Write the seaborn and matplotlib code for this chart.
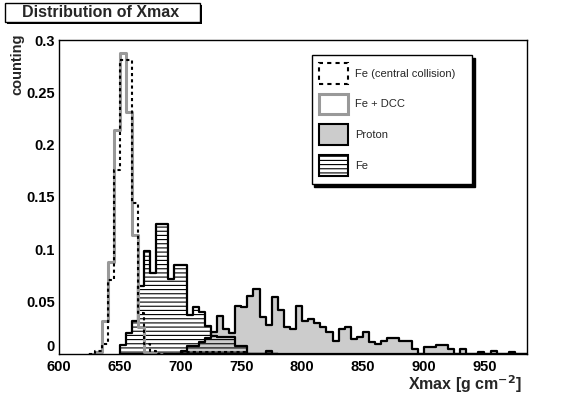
import numpy as np
import pandas as pd
import seaborn as sns
import matplotlib.pyplot as plt
from matplotlib.patches import Patch, Rectangle
from matplotlib.ticker import MultipleLocator, FuncFormatter

# Xmax distributions, bins of 5 g/cm2

bin_width = 5

fe_cc_start = 625
fe_cc = [0.0, 0.003, 0.010, 0.071, 0.176, 0.281, 0.281, 0.144, 0.039, 0.010,
         0.003, 0.0, 0.0, 0.0, 0.0,
         0.002, 0.002, 0.002, 0.002, 0.002, 0.002, 0.002, 0.002, 0.002, 0.002, 0.002, 0.0]

fe_dcc_start = 625
fe_dcc = [0.0, 0.002, 0.032, 0.088, 0.214, 0.288, 0.231, 0.114, 0.026, 0.002, 0.002, 0.0]

proton_start = 700
proton = [0.003, 0.008, 0.008, 0.011, 0.015,
          0.021, 0.036, 0.024, 0.020, 0.046, 0.045, 0.055, 0.062, 0.035, 0.028,
          0.054, 0.042, 0.026, 0.024, 0.046, 0.032, 0.033, 0.030, 0.026, 0.021,
          0.012, 0.024, 0.026, 0.014, 0.016,
          0.021, 0.011, 0.010, 0.012, 0.015, 0.015, 0.012, 0.012, 0.005, 0.0,
          0.007, 0.007, 0.009, 0.009, 0.005, 0.0, 0.005, 0.0, 0.0, 0.002,
          0.0, 0.003, 0.0, 0.0, 0.002, 0.0, 0.0]

fe_start = 650
fe = [0.009, 0.020, 0.032, 0.065, 0.098, 0.077, 0.124, 0.124, 0.072, 0.085,
      0.085, 0.037, 0.045, 0.040, 0.027, 0.017, 0.016, 0.016, 0.016, 0.008,
      0.008, 0.0, 0.0, 0.0, 0.003, 0.0]

labels = ['Fe (central collision)', 'Fe + DCC', 'Proton', 'Fe']

sns.set_theme(style='white')
plt.rcParams['font.family'] = ['Liberation Sans', 'DejaVu Sans']
plt.rcParams['font.weight'] = 'bold'
plt.rcParams['hatch.linewidth'] = 0.8

fig = plt.figure(figsize=(5.87, 3.94), dpi=100)
ax = fig.add_axes([59 / 587, 1 - 354 / 394, 468 / 587, 314 / 394])


def hist(start, values, **kw):
    n = len(values)
    df = pd.DataFrame({'xmax': start + bin_width * (np.arange(n) + 0.5),
                       'count': values})
    sns.histplot(data=df, x='xmax', weights='count', binwidth=bin_width,
                 binrange=(start, start + bin_width * n), element='step',
                 ax=ax, **kw)


hist(proton_start, proton, fill=True, color='#cccccc', facecolor='#cccccc',
     edgecolor='black', linewidth=1.6, alpha=1)
hist(fe_start, fe, fill=True, color='black', facecolor='none', edgecolor='black',
     hatch='----', linewidth=1.6, alpha=1)
hist(fe_dcc_start, fe_dcc, fill=False, color='#999999', linewidth=2.2)
hist(fe_cc_start, fe_cc, fill=False, color='black', linewidth=1.5,
     linestyle=(0, (1.5, 1.5)))

ax.set_xlim(600, 985)
ax.set_ylim(0, 0.3)
ax.xaxis.set_major_locator(MultipleLocator(50))
ax.xaxis.set_minor_locator(MultipleLocator(10))
ax.yaxis.set_major_locator(MultipleLocator(0.05))
ax.yaxis.set_minor_locator(MultipleLocator(0.01))
ax.yaxis.set_major_formatter(FuncFormatter(lambda v, p: f'{v:g}'))
ax.tick_params(which='both', direction='in', top=False, right=False,
               labelsize=10.5, colors='black')
ax.tick_params(axis='y', which='major', length=10, width=1, pad=3)
ax.tick_params(axis='y', which='minor', length=5, width=1)
ax.tick_params(axis='x', which='major', length=7, width=1, pad=4)
ax.tick_params(axis='x', which='minor', length=3.5, width=1)
for s in ax.spines.values():
    s.set_color('black')
    s.set_linewidth(1)

ax.set_ylabel('counting', loc='top', fontsize=10.5, fontweight='bold')
ax.yaxis.set_label_coords(-0.075, 1.02)
ax.set_xlabel(r'Xmax [g cm$^{\mathbf{-2}}$]', loc='right', fontsize=11.5,
              fontweight='bold')
ax.xaxis.set_label_coords(0.99, -0.06)

handles = [
    Patch(facecolor='white', edgecolor='black', linewidth=1.5, linestyle=(0, (2, 2))),
    Patch(facecolor='white', edgecolor='#999999', linewidth=2.2),
    Patch(facecolor='#cccccc', edgecolor='black', linewidth=1.5),
    Patch(facecolor='white', edgecolor='black', linewidth=1.5, hatch='----'),
]
leg = ax.legend(handles, labels, loc='upper left',
                bbox_to_anchor=(0.54, 0.952, 0.342, 0.0), mode='expand',
                prop={'size': 8, 'weight': 'normal'}, frameon=True,
                fancybox=False, shadow={'color': 'black', 'alpha': 1},
                handlelength=2.6, handleheight=2.5, labelspacing=0.9,
                borderpad=0.7, handletextpad=0.6, borderaxespad=0)
leg.get_frame().set_edgecolor('black')
leg.get_frame().set_linewidth(1)

# title box with shadow
fig.patches.append(Rectangle((7 / 587, 1 - 24 / 394), 195 / 587, 19 / 394,
                             transform=fig.transFigure, facecolor='black',
                             edgecolor='none', zorder=1))
fig.patches.append(Rectangle((5 / 587, 1 - 22 / 394), 195 / 587, 19 / 394,
                             transform=fig.transFigure, facecolor='white',
                             edgecolor='black', linewidth=1, zorder=2))
fig.text(22 / 587, 1 - 12.5 / 394, 'Distribution of Xmax', ha='left', va='center',
         fontsize=11.5, fontweight='bold', zorder=3)

# lift the "0" label above the x tick labels, as ROOT does
fig.canvas.draw()
for tick in ax.yaxis.get_major_ticks():
    if abs(tick.get_loc()) < 1e-9:
        tick.label1.set_va('bottom')

fig.savefig('out.png', dpi=100)
